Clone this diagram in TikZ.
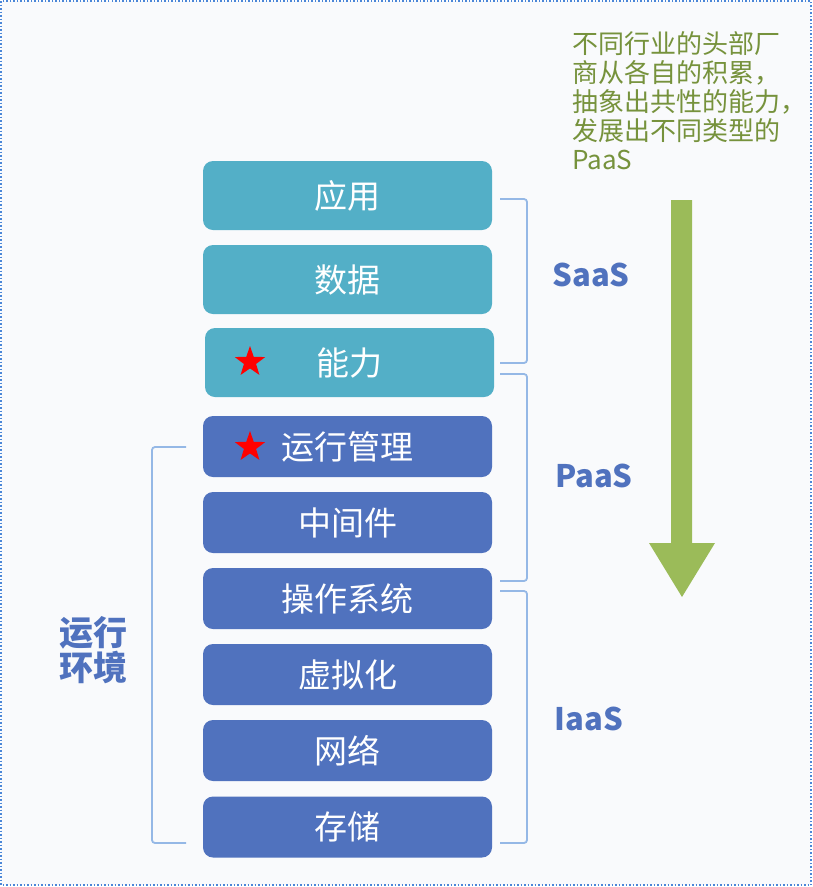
\documentclass[tikz,border=0pt]{standalone}
\usepackage{fontspec}
\setmainfont{Noto Sans CJK SC}
\usetikzlibrary{shapes.geometric}
\definecolor{bgc}{HTML}{F9FAFC}
\definecolor{framec}{HTML}{4A86D8}
\definecolor{tealc}{HTML}{53AFC7}
\definecolor{bluec}{HTML}{5072BE}
\definecolor{bracec}{HTML}{95B8E6}
\definecolor{greenc}{HTML}{9BBB59}
\definecolor{gtext}{HTML}{76923C}
\tikzset{
  layer/.style={rounded corners=10pt, minimum width=289pt, text=white, font=\fontsize{33}{36}\selectfont, inner sep=0pt},
  tealbox/.style={layer, fill=tealc, minimum height=69pt},
  bluebox/.style={layer, fill=bluec, minimum height=61pt},
  brace/.style={draw=bracec, line width=1.8pt, rounded corners=3pt},
  tier/.style={text=bluec, font=\fontsize{31}{35}\selectfont\bfseries},
  redstar/.style={star, star points=5, star point ratio=2.5, fill=red, minimum size=32pt, inner sep=0pt},
}
\begin{document}
\begin{tikzpicture}[x=1pt,y=-1pt]
\path[fill=bgc, draw=framec, line width=1.5pt, dotted] (1,1) rectangle (811,885);
\useasboundingbox (0,0) rectangle (813,887);
% boxes
\node[tealbox] (app) at (347.5,195.5) {应用};
\node[tealbox] (data) at (347.5,279.5) {数据};
\node[tealbox] (cap) at (349.5,362.5) {能力};
\node[bluebox] (run) at (347.5,446.5) {运行管理};
\node[bluebox] (mid) at (347.5,522.5) {中间件};
\node[bluebox] (os) at (347.5,598.5) {操作系统};
\node[bluebox] (virt) at (347.5,674.5) {虚拟化};
\node[bluebox] (net) at (347.5,750.5) {网络};
\node[bluebox] (sto) at (347.5,827) {存储};
\node[redstar] (s1) at (250,362) {};
\node[redstar] (s2) at (250,447) {};
% right braces
\coordinate (sa1) at (500,199); \coordinate (sa2) at (500,363);
\coordinate (pa1) at (500,374); \coordinate (pa2) at (500,581);
\coordinate (ia1) at (500,591); \coordinate (ia2) at (500,843);
\draw[brace] (sa1) -- ++(27,0) |- (sa2);
\draw[brace] (pa1) -- ++(27,0) |- (pa2);
\draw[brace] (ia1) -- ++(27,0) |- (ia2);
% left brace
\coordinate (lb1) at (186,447); \coordinate (lb2) at (186,843);
\draw[brace] (lb1) -- ++(-34,0) |- (lb2);
% tier labels
\node[tier] (saas) at (591,275) {SaaS};
\node[tier] (paas) at (594,476) {PaaS};
\node[tier] (iaas) at (589,719) {IaaS};
\node[tier, align=center, font=\fontsize{34}{35}\selectfont\bfseries] (env) at (93,650) {运行\\环境};
% green arrow
\fill[greenc] (671,200) -- (692,200) -- (692,543) -- (715,543) -- (682,597) -- (649,543) -- (671,543) -- cycle;
% green text
\node[anchor=north west, text=gtext, align=left, inner sep=0pt, font=\fontsize{26}{29}\selectfont] (note) at (572,31) {不同行业的头部厂\\商从各自的积累，\\抽象出共性的能力，\\发展出不同类型的\\PaaS};
\end{tikzpicture}
\end{document}
